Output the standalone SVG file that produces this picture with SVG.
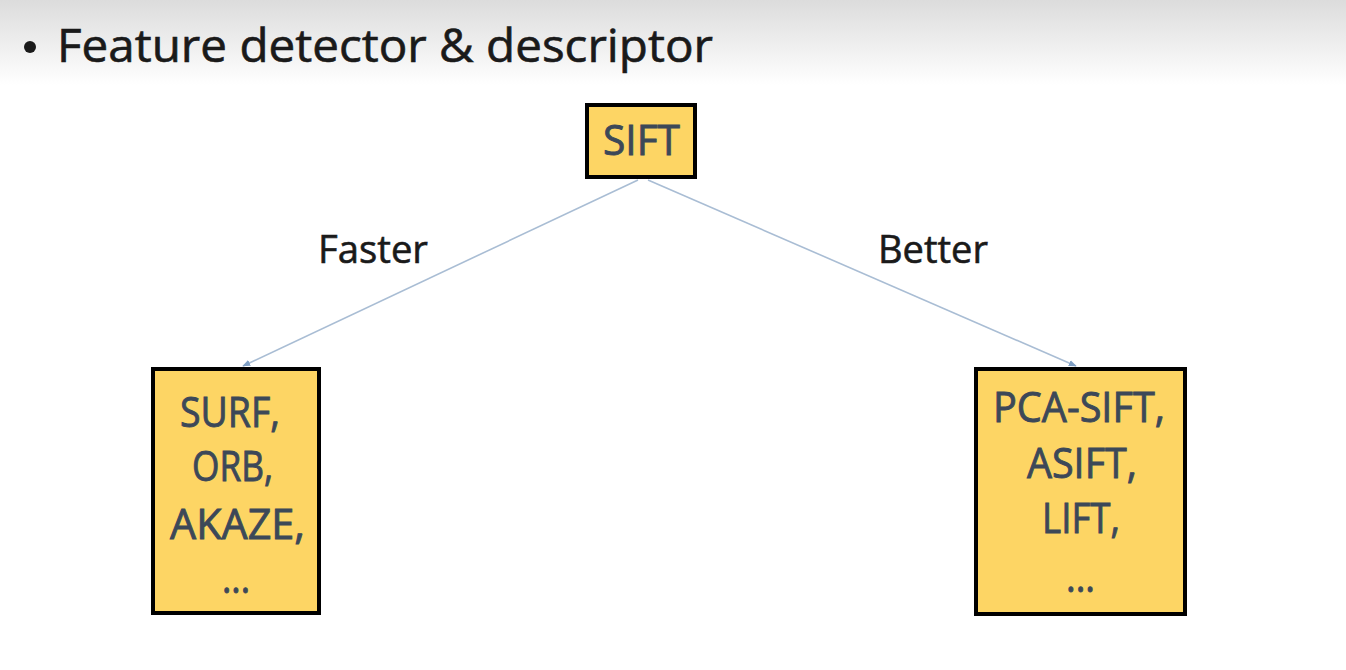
<svg xmlns="http://www.w3.org/2000/svg" width="1346" height="670" viewBox="0 0 1346 670">
<defs>
<linearGradient id="hdr" x1="0" y1="0" x2="0" y2="1">
<stop offset="0" stop-color="#dcdcdc"/>
<stop offset="1" stop-color="#ffffff"/>
</linearGradient>
<marker id="arr" viewBox="0 0 10 10" refX="9" refY="5" markerWidth="5" markerHeight="5" orient="auto">
<path d="M0,1 L10,5 L0,9 z" fill="#7f9fc4"/>
</marker>
<style>
.box{fill:#fdd564;stroke:#000;stroke-width:4}
.bt{font-family:"Open Sans","Liberation Sans",sans-serif;font-size:42px;fill:#3c4858;stroke:#3c4858;stroke-width:0.9}
.lbl{font-family:"Open Sans","Liberation Sans",sans-serif;font-size:38px;fill:#1a1a1a;stroke:#1a1a1a;stroke-width:0.6}
.ttl{font-family:"Open Sans","Liberation Sans",sans-serif;font-size:45px;fill:#1a1a1a;stroke:#1a1a1a;stroke-width:0.6}
.con{stroke:#a9bdd4;stroke-width:1.6;fill:none}
</style>
</defs>
<rect x="0" y="0" width="1346" height="670" fill="#ffffff"/>
<rect x="0" y="0" width="1346" height="85" fill="url(#hdr)"/>
<g id="title">
<circle cx="30" cy="47" r="6" fill="#1a1a1a"/>
<text class="ttl" x="57" y="62" textLength="656" lengthAdjust="spacingAndGlyphs">Feature detector &amp; descriptor</text>
</g>
<g id="connectors">
<line class="con" x1="638" y1="180" x2="243" y2="366" marker-end="url(#arr)"/>
<line class="con" x1="648" y1="180" x2="1076" y2="366" marker-end="url(#arr)"/>
<text class="lbl" x="318" y="263" textLength="110" lengthAdjust="spacingAndGlyphs">Faster</text>
<text class="lbl" x="878" y="263" textLength="110" lengthAdjust="spacingAndGlyphs">Better</text>
</g>
<g id="sift">
<rect class="box" x="587" y="105" width="108" height="72"/>
<text class="bt" x="603" y="155" textLength="77" lengthAdjust="spacingAndGlyphs">SIFT</text>
</g>
<g id="faster-methods">
<rect class="box" x="153" y="369" width="166" height="244"/>
<text class="bt" x="180" y="427" textLength="100" lengthAdjust="spacingAndGlyphs">SURF,</text>
<text class="bt" x="192" y="481" textLength="81" lengthAdjust="spacingAndGlyphs">ORB,</text>
<text class="bt" x="170" y="539" textLength="135" lengthAdjust="spacingAndGlyphs">AKAZE,</text>
<text class="bt" x="222" y="593" textLength="28" lengthAdjust="spacingAndGlyphs">...</text>
</g>
<g id="better-methods">
<rect class="box" x="976" y="369" width="209" height="245"/>
<text class="bt" x="993" y="422" textLength="172" lengthAdjust="spacingAndGlyphs">PCA-SIFT,</text>
<text class="bt" x="1027" y="478" textLength="110" lengthAdjust="spacingAndGlyphs">ASIFT,</text>
<text class="bt" x="1042" y="533" textLength="78" lengthAdjust="spacingAndGlyphs">LIFT,</text>
<text class="bt" x="1066" y="592" textLength="29" lengthAdjust="spacingAndGlyphs">...</text>
</g>
</svg>
